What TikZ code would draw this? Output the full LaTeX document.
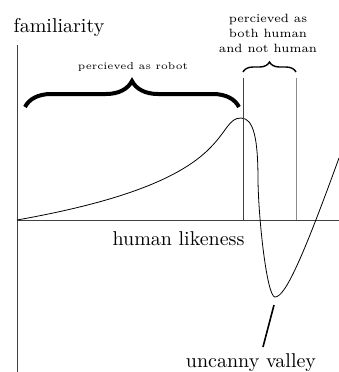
\documentclass[tikz,border=0pt]{standalone}
\usetikzlibrary{decorations.pathreplacing}
\begin{document}
\begin{tikzpicture}[x=0.5pt,y=0.5pt]
    \useasboundingbox (-17,-152) rectangle (322,220);
    \coordinate (o) at (0,0);
    \coordinate (xend) at (322,0);
    \coordinate (ytop) at (0,175);
    \coordinate (ybot) at (0,-152);
    \draw[black!75] (ybot) -- (ytop);
    \draw[black!75] (o) -- (xend);
    \node[anchor=base] (fam) at (42,188) {familiarity};
    \node[anchor=base] (likeness) at (161.5,-25) {human likeness};
    \node[anchor=base] (valley) at (234,-147) {uncanny valley};
    % the curve
    \coordinate (peak) at (224,102);
    \coordinate (vmin) at (258,-77);
    \draw[line width=0.4pt] (o) .. controls (90,16) and (160,38) .. (193,72)
        .. controls (210,89) and (212,102) .. (peak)
        .. controls (237,102) and (241,80) .. (241,40)
        .. controls (241.5,0) and (250,-77) .. (vmin)
        .. controls (268,-77) and (285,-40) .. (322,62);
    % perceived regions
    \coordinate (ra) at (8,113);
    \coordinate (rb) at (222,113);
    \draw[decorate,decoration={brace,amplitude=13pt},line width=2pt] (ra) -- (rb);
    \node[font=\tiny] (robot) at (116,153) {percieved as robot};
    \coordinate (ha) at (226,142);
    \coordinate (hb) at (279,142);
    \draw[black!75] (ha) -- (ha |- o);
    \draw[black!45] (hb) -- (hb |- o);
    \draw[decorate,decoration={brace,amplitude=5pt},line width=0.7pt] ([yshift=3]ha) -- ([yshift=3]hb);
    \node[font={\fontsize{6}{7.5}\selectfont},align=center] (both) at (251,187) {percieved as\\both human\\and not human};
    % valley pointer
    \coordinate (va) at (257,-85);
    \coordinate (vb) at (246,-127);
    \draw[line width=0.8pt] (va) -- (vb);
\end{tikzpicture}
\end{document}
